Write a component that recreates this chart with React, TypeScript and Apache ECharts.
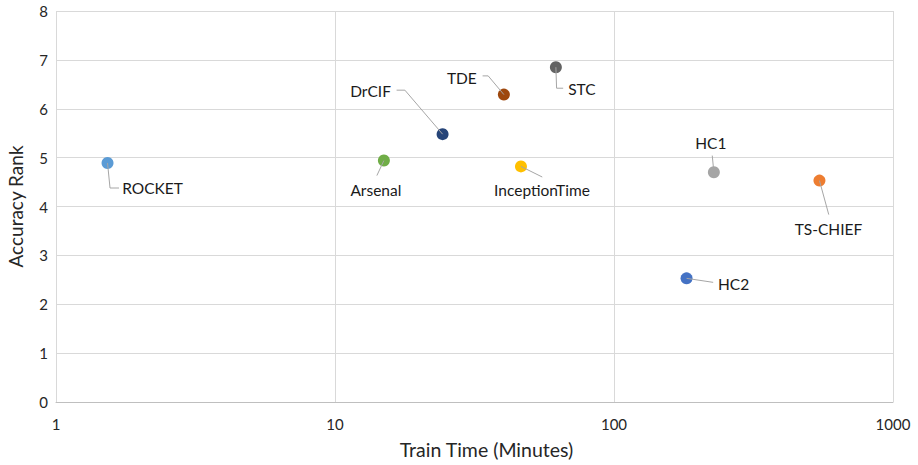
import React, { useEffect, useRef } from "react";
import * as echarts from "echarts";

const names = ["ROCKET", "Arsenal", "DrCIF", "TDE", "STC", "InceptionTime", "HC1", "TS-CHIEF", "HC2"];
const trainTime = [1.53, 14.97, 24.3, 40.3, 61.9, 46.4, 228, 545, 182];
const accuracyRank = [4.89, 4.94, 5.48, 6.29, 6.85, 4.82, 4.7, 4.53, 2.53];
const colors = ["#5B9BD5", "#70AD47", "#264478", "#9E480E", "#636363", "#FFC000", "#A5A5A5", "#ED7D31", "#4472C4"];
const xTicks = [1, 10, 100, 1000];

// label layout (pixel offsets relative to the point)
const labelOffsets: number[][] = [
  [45, 25], [-8, 29], [-72, -43], [-42, -17], [26, 22], [21, 24], [-3, -29], [9, 48], [47, 6],
];
const leaderPaths: number[][][] = [
  [[0, 0], [2.5, 25], [11.5, 25]],
  [[0, 0], [-7, 15]],
  [[0, 0], [-37.7, -44], [-46, -44]],
  [[0, 0], [-15.7, -18.7], [-21.3, -18.7]],
  [[0, 0], [0.7, 21], [7.3, 21]],
  [[0, 0], [21.3, 10.6]],
  [[0, 0], [-1.6, -16.7]],
  [[0, 0], [9.3, 34]],
  [[0, 0], [26.6, 4]],
];

const FONT = "Lato";

export default function App() {
  const ref = useRef<HTMLDivElement>(null);
  useEffect(() => {
    if (!ref.current) return;
    document.body.style.margin = "0";
    const chart = echarts.init(ref.current, undefined, { renderer: "svg" });
    const data = names.map((n, i) => ({
      name: n,
      value: [trainTime[i], accuracyRank[i]],
      itemStyle: { color: colors[i], opacity: 1 },
      label: { offset: labelOffsets[i] },
    }));
    chart.setOption({
      animation: false,
      textStyle: { fontFamily: FONT },
      grid: { left: 56, right: 25, top: 11, bottom: 63, containLabel: false, outerBoundsMode: "none" },
      xAxis: {
        type: "log",
        logBase: 10,
        min: xTicks[0],
        max: xTicks[xTicks.length - 1],
        name: "Train Time (Minutes)",
        nameLocation: "middle",
        nameGap: 37,
        nameTextStyle: { fontFamily: FONT, fontSize: 19.5, color: "#262626", padding: [0, 0, 0, 24] },
        axisLine: { show: true, lineStyle: { color: "#BFBFBF", width: 1 } },
        axisTick: { show: false },
        axisLabel: { fontFamily: FONT, fontSize: 15, color: "#262626", margin: 14, formatter: (v: number) => String(v) },
        splitLine: { show: true, lineStyle: { color: "#D9D9D9", width: 1 } },
        minorSplitLine: { show: false },
      },
      yAxis: {
        type: "value",
        min: 0,
        max: 8,
        interval: 1,
        name: "Accuracy Rank",
        nameLocation: "middle",
        nameGap: 31,
        nameTextStyle: { fontFamily: FONT, fontSize: 19, color: "#262626" },
        axisLine: { show: false },
        axisTick: { show: false },
        axisLabel: { fontFamily: FONT, fontSize: 15, color: "#262626", margin: 8 },
        splitLine: { show: true, lineStyle: { color: "#D9D9D9", width: 1 } },
      },
      series: [
        {
          type: "scatter",
          symbol: "circle",
          symbolSize: 12,
          data,
          label: {
            show: true,
            position: "inside",
            formatter: (p: any) => p.name,
            fontFamily: FONT,
            fontSize: 15.5,
            color: "#1a1a1a",
          },
          z: 2,
        },
      ],
    });
    const graphics = names.map((_, i) => {
      const p = chart.convertToPixel({ gridIndex: 0 }, [trainTime[i], accuracyRank[i]]) as number[];
      return {
        type: "polyline",
        z: 10,
        silent: true,
        shape: { points: leaderPaths[i].map((q) => [p[0] + q[0], p[1] + q[1]]) },
        style: { stroke: "#A6A6A6", lineWidth: 1, fill: "none" },
      };
    });
    chart.setOption({ graphic: graphics });
    return () => chart.dispose();
  }, []);
  return <div ref={ref} style={{ width: 918, height: 465 }} />;
}
